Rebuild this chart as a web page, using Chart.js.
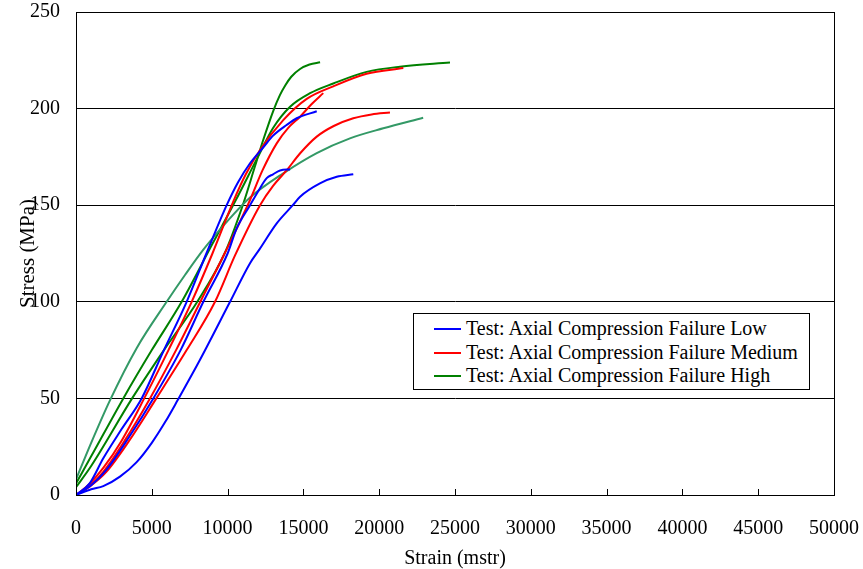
<!DOCTYPE html>
<html>
<head>
<meta charset="utf-8">
<script src="https://cdn.jsdelivr.net/npm/chart.js@4.4.0/dist/chart.umd.min.js"></script>
<style>
  html, body { margin: 0; padding: 0; background: #fff; }
  #wrap { position: relative; width: 863px; height: 569px; }
  #legend {
    position: absolute; left: 413px; top: 313px; width: 397px; height: 77px;
    box-sizing: border-box; border: 1px solid #000; background: #fff;
    font-family: "Liberation Serif", "Times New Roman", serif; font-size: 20px;
    padding-top: 3px; color: #000;
  }
  .row { height: 23.6px; line-height: 23.6px; position: relative; white-space: nowrap; }
  .swatch { position: absolute; left: 20px; top: 11px; width: 27px; height: 2px; }
  .txt { position: absolute; left: 52px; top: 0; }
</style>
</head>
<body>
<div id="wrap">
  <canvas id="c" width="863" height="569"></canvas>
  <div id="legend"></div>
</div>
<script>
// ---- Data (strain in mstr, stress in MPa) ----
const xTicks = [0, 5000, 10000, 15000, 20000, 25000, 30000, 35000, 40000, 45000, 50000];
const yTicks = [0, 50, 100, 150, 200, 250];

const lowLabel = "Test: Axial Compression Failure Low";
const medLabel = "Test: Axial Compression Failure Medium";
const highLabel = "Test: Axial Compression Failure High";

const low1Strain = [0, 900, 1800, 3000, 4330, 5800, 7300, 8600, 9940, 10700, 11480, 12360, 13000, 13890, 14560, 15880];
const low1Stress = [0, 6, 19, 34, 50, 75, 100, 125, 150, 162, 171.7, 180, 186, 191.5, 195, 198.6];

const low2Strain = [0, 1000, 2000, 3500, 5100, 6900, 8400, 10000, 10600, 11480, 12000, 12580, 13000, 13460, 14120];
const low2Stress = [0, 5, 13, 30, 50, 75, 100, 125, 138, 150, 157, 164, 166, 168, 168.5];

const low3Strain = [0, 1000, 1800, 2900, 4000, 5000, 5900, 6700, 8180, 10160, 11480, 12090, 13240, 14300, 14780, 16090, 17200, 18290];
const low3Stress = [0, 3, 4.6, 9.5, 17, 27, 38, 49, 70, 100, 120, 127, 140.6, 150, 154.4, 161.3, 164.7, 166];

const med1Strain = [0, 800, 1800, 3000, 4500, 6100, 7630, 9000, 10380, 11200, 12140, 13670, 15220, 16970, 19170, 21590];
const med1Stress = [0, 5, 14, 28, 50, 75, 100, 125, 152, 166, 178.6, 194, 205, 211.5, 218, 221];

const med2Strain = [0, 800, 1800, 3200, 4880, 6600, 8200, 9800, 11480, 12300, 13240, 14000, 14780, 15500, 16310];
const med2Stress = [0, 4, 12, 28, 50, 75, 100, 125, 152.7, 168, 182, 190, 195.8, 202, 208];

const med3Strain = [0, 1000, 2000, 3500, 5300, 7300, 9170, 10490, 12140, 13000, 13890, 14800, 15880, 17000, 18290, 19500, 20710];
const med3Stress = [0, 5, 12, 28, 50, 75, 100, 124, 150, 160, 168, 177, 185.5, 191, 195, 197, 198];

const high1Strain = [0, 1000, 3700, 5800, 8000, 9800, 11000, 11800, 12360, 13020, 13450, 13800, 14200, 14780, 15400, 16100];
const high1Stress = [4, 15, 50, 75, 100, 125, 150, 170, 184, 199, 207, 212, 216.5, 220.5, 222.8, 224];

const high2Strain = [0, 1000, 3120, 5000, 6970, 9000, 10500, 12000, 13000, 14120, 15440, 16970, 19170, 21370, 24670];
const high2Stress = [6, 20, 50, 75, 100, 130, 152, 175, 190, 201, 208, 213, 219, 221.7, 223.8];

const high3Strain = [0, 1000, 2240, 4000, 5980, 7200, 8400, 9900, 11480, 13670, 15880, 18070, 20270, 22900];
const high3Stress = [8, 27, 49, 76, 100, 114, 127, 141, 154, 166.5, 177, 184.6, 189.8, 195.3];

const BLUE = "#0000FF", RED = "#FF0000", GREEN = "#008000", TEAL = "#339966";

function pts(xs, ys) { return xs.map((x, i) => ({ x: x, y: ys[i] })); }
function ds(label, xs, ys, color, inLegend) {
  return {
    label: label, data: pts(xs, ys), borderColor: color, backgroundColor: color,
    borderWidth: 2, pointRadius: 0, fill: false, cubicInterpolationMode: 'monotone',
    showInLegend: inLegend
  };
}

const datasets = [
  ds(lowLabel, low1Strain, low1Stress, BLUE, true),
  ds(lowLabel, low2Strain, low2Stress, BLUE, false),
  ds(lowLabel, low3Strain, low3Stress, BLUE, false),
  ds(medLabel, med1Strain, med1Stress, RED, true),
  ds(medLabel, med2Strain, med2Stress, RED, false),
  ds(medLabel, med3Strain, med3Stress, RED, false),
  ds(highLabel, high3Strain, high3Stress, TEAL, false),
  ds(highLabel, high1Strain, high1Stress, GREEN, true),
  ds(highLabel, high2Strain, high2Stress, GREEN, false)
];

const FONT = "'Liberation Serif', 'Times New Roman', serif";

const frame = {
  id: 'frame',
  afterDraw(chart) {
    const ctx = chart.ctx, a = chart.chartArea, xs = chart.scales.x;
    ctx.save();
    ctx.strokeStyle = '#000';
    ctx.lineWidth = 1;
    ctx.beginPath();
    xs.ticks.forEach(t => {
      const px = Math.round(xs.getPixelForValue(t.value)) + 0.5;
      ctx.moveTo(px, a.bottom);
      ctx.lineTo(px, a.bottom - 6);
    });
    ctx.stroke();
    ctx.strokeRect(Math.round(a.left) + 0.5, Math.round(a.top) + 0.5, Math.round(a.width), Math.round(a.height));
    ctx.restore();
  }
};

const chart = new Chart(document.getElementById('c'), {
  type: 'line',
  data: { datasets: datasets },
  options: {
    responsive: false,
    animation: false,
    devicePixelRatio: 1,
    layout: { padding: { left: 0, right: 29, top: 12, bottom: 0 } },
    plugins: { legend: { display: false }, tooltip: { enabled: false } },
    scales: {
      x: {
        type: 'linear', min: 0, max: 50000,
        afterBuildTicks(s) { s.ticks = xTicks.map(v => ({ value: v })); },
        afterFit(s) { s.height = 74; s.paddingLeft = 0; s.paddingRight = 0; },
        ticks: { color: '#000', font: { family: FONT, size: 20 }, padding: 22, maxRotation: 0, autoSkip: false,
                 callback: (v) => String(v) },
        grid: { display: false, drawTicks: false },
        border: { display: true, color: '#000', width: 1 },
        title: { display: true, text: 'Strain (mstr)', color: '#000', font: { family: FONT, size: 20 }, padding: { top: 0, bottom: -2 } }
      },
      y: {
        type: 'linear', min: 0, max: 250,
        afterBuildTicks(s) { s.ticks = yTicks.map(v => ({ value: v })); },
        afterFit(s) { s.width = 76; s.paddingTop = 0; s.paddingBottom = 0; },
        ticks: { color: '#000', font: { family: FONT, size: 20 }, padding: 16, callback: (v) => String(v) },
        grid: { color: '#000', lineWidth: 1, drawTicks: false },
        border: { display: true, color: '#000', width: 1 },
        title: { display: true, text: 'Stress (MPa)', color: '#000', font: { family: FONT, size: 21 }, padding: { top: 16, bottom: 0 } }
      }
    }
  },
  plugins: [frame]
});

// HTML legend built from the datasets
const legend = document.getElementById('legend');
chart.data.datasets.filter(d => d.showInLegend).forEach(d => {
  const row = document.createElement('div');
  row.className = 'row';
  const sw = document.createElement('span');
  sw.className = 'swatch';
  sw.style.background = d.borderColor;
  const tx = document.createElement('span');
  tx.className = 'txt';
  tx.textContent = d.label;
  row.appendChild(sw); row.appendChild(tx);
  legend.appendChild(row);
});
</script>
</body>
</html>
